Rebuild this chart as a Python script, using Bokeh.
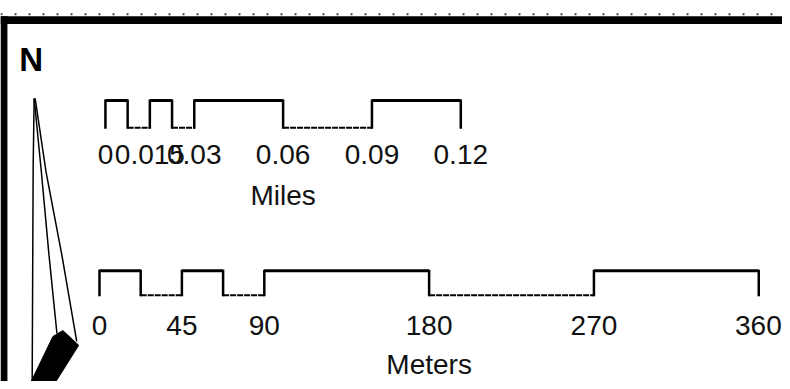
from bokeh.plotting import figure
from bokeh.models import Range1d, ColumnDataSource
from bokeh.core.properties import value
from bokeh.embed import file_html
from bokeh.resources import INLINE

# ---- data -------------------------------------------------------------
miles_edges = [0, 0.0075, 0.015, 0.0225, 0.03, 0.06, 0.09, 0.12]
miles_fill = [1, 0, 1, 0, 1, 0, 1]
miles_ticks = [0, 0.015, 0.03, 0.06, 0.09, 0.12]
miles_tick_labels = ["0", "0.015", "0.03", "0.06", "0.09", "0.12"]
miles_title = "Miles"

meters_edges = [0, 22.5, 45, 67.5, 90, 180, 270, 360]
meters_fill = [1, 0, 1, 0, 1, 0, 1]
meters_ticks = [0, 45, 90, 180, 270, 360]
meters_tick_labels = ["0", "45", "90", "180", "270", "360"]
meters_title = "Meters"

north_label = "N"

# north arrow outline (pixel coordinates of the decoration)
arrow_left_x = [34, 33, 32]
arrow_left_y = [100, 170, 389]
arrow_ridge_x = [34, 41, 49, 57]
arrow_ridge_y = [100, 172, 260, 340]
arrow_right_x = [35, 46, 62, 77]
arrow_right_y = [100, 175, 260, 348]
arrow_fill_x = [53, 63, 79, 56, 31]
arrow_fill_y = [343, 337, 352, 389, 389]

FONT = value("Liberation Sans")

W, H = 782, 381          # figure size in screen pixels
RW, RH = 790, 389        # drawing coordinate space

# ---- figure -----------------------------------------------------------
p = figure(width=W, height=H, output_backend="svg", toolbar_location=None,
           x_range=Range1d(0, RW), y_range=Range1d(RH, 0),
           x_axis_type=None, y_axis_type=None, min_border=0)
p.grid.visible = False
p.outline_line_color = None
p.background_fill_color = "white"
p.border_fill_color = "white"


def px_range(v0, px0, v1, px1):
    k = (px1 - px0) / (v1 - v0)
    return Range1d(v0 - px0 / k, v1 + (RW - px1) / k)


p.extra_x_ranges = {
    "miles": px_range(miles_edges[0], 106, miles_edges[-1], 465),
    "meters": px_range(meters_edges[0], 100, meters_edges[-1], 766),
}

# frame border (top and left) with its dotted top edge
p.quad(left=0, right=RW, top=16, bottom=24, fill_color="black", line_color=None)
p.quad(left=0, right=7, top=16, bottom=RH, fill_color="black", line_color=None)
p.line([0, RW], [14, 14], line_color="#444444", line_width=2, line_dash="2 12")


def scalebar(edges, fill, ticks, labels, title, title_x, rng, hi, lo, lab_y, tit_y):
    hx0, hx1, lx0, lx1 = [], [], [], []
    for i, f in enumerate(fill):
        if f:
            hx0.append(edges[i]); hx1.append(edges[i + 1])
        else:
            lx0.append(edges[i]); lx1.append(edges[i + 1])
    p.segment(x0=hx0, x1=hx1, y0=hi, y1=hi, x_range_name=rng,
              line_color="black", line_width=3)
    p.segment(x0=lx0, x1=lx1, y0=lo, y1=lo, x_range_name=rng,
              line_color="black", line_width=2, line_dash="6 1")
    p.segment(x0=edges, x1=edges, y0=hi - 1, y1=lo + 1, x_range_name=rng,
              line_color="black", line_width=2.5)
    align = ["center"] * len(ticks)
    offs = [0] * len(ticks)
    if rng == "meters":      # last label sits against the right edge
        align[-1] = "right"
        offs[-1] = 23
    src = ColumnDataSource(dict(x=ticks, y=[lab_y] * len(ticks), t=labels,
                                a=align, o=offs))
    p.text(x="x", y="y", text="t", source=src, x_range_name=rng,
           text_align="a", x_offset="o", text_baseline="middle", text_font=FONT,
           text_font_size="28px", text_color="#111111")
    p.text(x=[title_x], y=[tit_y], text=[title], x_range_name=rng,
           text_align="center", text_baseline="middle", text_font=FONT,
           text_font_size="28px", text_color="#111111")


scalebar(miles_edges, miles_fill, miles_ticks, miles_tick_labels, miles_title,
         0.06, "miles", 102, 130, 157, 199)
scalebar(meters_edges, meters_fill, meters_ticks, meters_tick_labels, meters_title,
         180, "meters", 276, 301, 332, 372)

# north arrow
p.line(arrow_left_x, arrow_left_y, line_color="black", line_width=1.5)
p.line(arrow_ridge_x, arrow_ridge_y, line_color="black", line_width=1.5)
p.line(arrow_right_x, arrow_right_y, line_color="black", line_width=1.5)
p.patch(arrow_fill_x, arrow_fill_y, fill_color="black", line_color="black")
p.text(x=[31], y=[60], text=[north_label], text_align="center",
       text_baseline="middle", text_font=FONT, text_font_style="bold",
       text_font_size="33px", text_color="black")

open("out.html", "w").write(file_html(p, INLINE))
